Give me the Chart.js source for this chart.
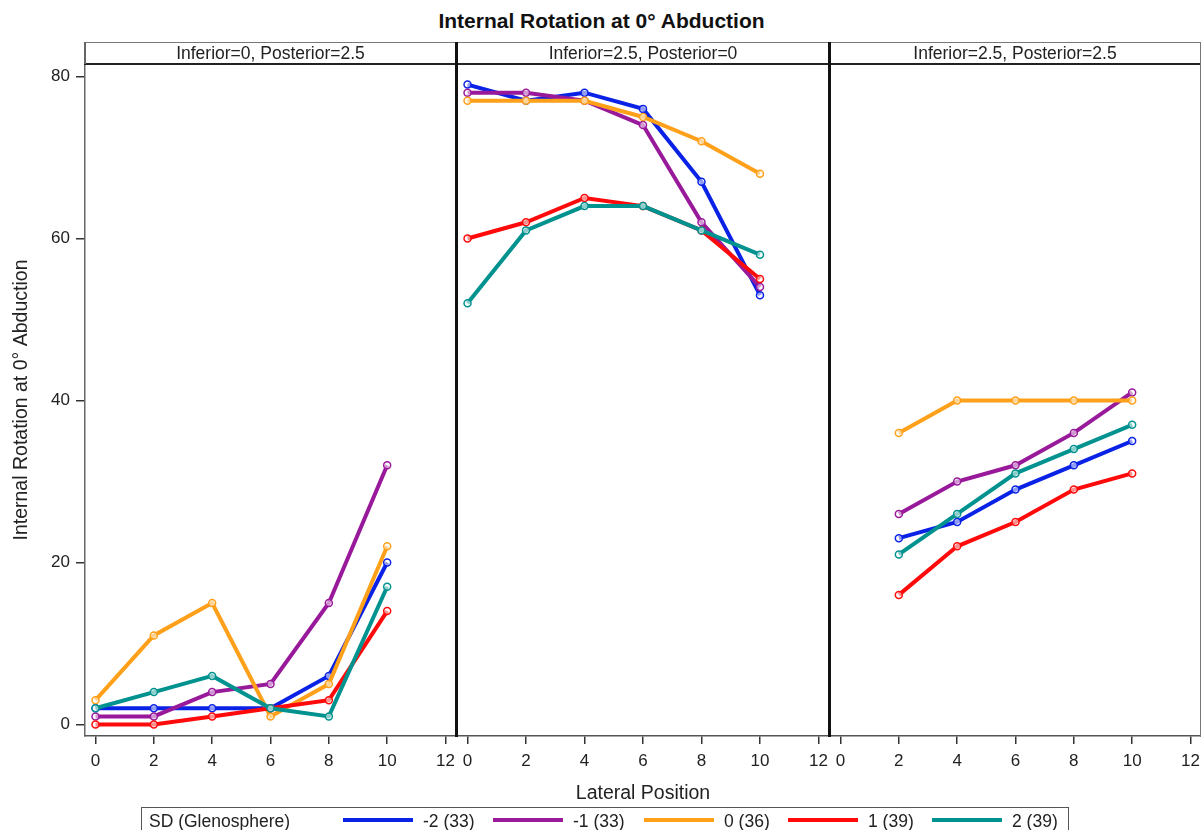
<!DOCTYPE html>
<html>
<head>
<meta charset="utf-8">
<script src="https://cdn.jsdelivr.net/npm/chart.js@4.4.0/dist/chart.umd.min.js"></script>
<style>
  body { margin: 0; background: #fff; font-family: "Liberation Sans", Arial, sans-serif; color: #222; }
  #wrap { position: relative; width: 1203px; height: 830px; overflow: hidden; }
  canvas { position: absolute; }
  .line { position: absolute; }
  .txt { position: absolute; white-space: nowrap; line-height: 1; }
  #title { left: 0; width: 1203px; top: 10px; text-align: center; font-weight: bold; font-size: 21px; color: #111; }
  .head { top: 45px; font-size: 17.5px; text-align: center; }
  #legend { position: absolute; left: 141px; top: 807px; width: 928px; height: 40px; border: 1px solid #555; box-sizing: border-box; }
  .swatch { position: absolute; top: 10px; width: 70px; height: 4px; }
  .lab { position: absolute; top: 3px; font-size: 17.5px; white-space: nowrap; }
</style>
</head>
<body>
<div id="wrap">
  <div id="title" class="txt">Internal Rotation at 0° Abduction</div>
  <canvas id="panel1" width="456" height="744" style="left:0px;top:64px;width:456px;height:744px"></canvas>
  <canvas id="panel2" width="372" height="744" style="left:457px;top:64px;width:372px;height:744px"></canvas>
  <canvas id="panel3" width="371" height="744" style="left:830px;top:64px;width:371px;height:744px"></canvas>
  <div id="legend"></div>
</div>
<script>
// lateral positions on the x axis
const lateralFull = [0, 2, 4, 6, 8, 10];
const lateralShort = [2, 4, 6, 8, 10];
const xTicks = [0, 2, 4, 6, 8, 10, 12];
const yTicks = [0, 20, 40, 60, 80];

const panelTitles = ["Inferior=0, Posterior=2.5", "Inferior=2.5, Posterior=0", "Inferior=2.5, Posterior=2.5"];
const seriesLabels = ["-2 (33)", "-1 (33)", "0 (36)", "1 (39)", "2 (39)"];
const seriesColors = ["#0a22e6", "#99199b", "#ffa01a", "#ff0a0a", "#00928f"];

// Inferior=0, Posterior=2.5
const p1Minus2 = [2, 2, 2, 2, 6, 20];
const p1Minus1 = [1, 1, 4, 5, 15, 32];
const p1Zero   = [3, 11, 15, 1, 5, 22];
const p1Plus1  = [0, 0, 1, 2, 3, 14];
const p1Plus2  = [2, 4, 6, 2, 1, 17];

// Inferior=2.5, Posterior=0
const p2Minus2 = [79, 77, 78, 76, 67, 53];
const p2Minus1 = [78, 78, 77, 74, 62, 54];
const p2Zero   = [77, 77, 77, 75, 72, 68];
const p2Plus1  = [60, 62, 65, 64, 61, 55];
const p2Plus2  = [52, 61, 64, 64, 61, 58];

// Inferior=2.5, Posterior=2.5
const p3Minus2 = [23, 25, 29, 32, 35];
const p3Minus1 = [26, 30, 32, 36, 41];
const p3Zero   = [36, 40, 40, 40, 40];
const p3Plus1  = [16, 22, 25, 29, 31];
const p3Plus2  = [21, 26, 31, 34, 37];

Chart.defaults.font.family = "'Liberation Sans', Arial, sans-serif";
Chart.defaults.color = "#222";

function makeDatasets(xs, seriesList) {
  return seriesList.map((ys, i) => ({
    label: seriesLabels[i],
    data: xs.map((x, j) => ({ x: x, y: ys[j] })),
    borderColor: seriesColors[i],
    borderWidth: 4,
    pointRadius: 3.5,
    pointBorderWidth: 1.5,
    pointBorderColor: seriesColors[i],
    pointBackgroundColor: "rgba(255,255,255,0.55)",
    tension: 0,
    order: seriesList.length - i
  }));
}

function panelOptions(showY, showXTitle) {
  return {
    responsive: false,
    animation: false,
    events: [],
    layout: { padding: 0, autoPadding: false },
    plugins: { legend: { display: false }, tooltip: { enabled: false } },
    scales: {
      x: {
        type: "linear",
        min: -0.36,
        max: 12.36,
        afterBuildTicks: s => { s.ticks = xTicks.map(v => ({ value: v })); },
        afterFit: s => { s.height = 72; s.paddingLeft = 0; s.paddingRight = 0; },
        grid: { drawOnChartArea: false, tickLength: 8, color: "#333", lineWidth: 1.5 },
        border: { color: "#555", width: 1.5 },
        ticks: { font: { size: 17 }, color: "#222", padding: 7, autoSkip: false, maxRotation: 0 },
        title: { display: showXTitle, text: "Lateral Position", font: { size: 19.5 }, color: "#222", padding: { top: 0, bottom: 3 } }
      },
      y: {
        display: showY,
        min: -1.42,
        max: 81.54,
        afterBuildTicks: s => { s.ticks = yTicks.map(v => ({ value: v })); },
        // keep the plot area flush with the panel strip
        afterFit: s => { s.width = showY ? 85 : 0; s.paddingTop = 0; s.paddingBottom = 0; },
        grid: { drawOnChartArea: false, tickLength: 9, color: "#333", lineWidth: 1.5 },
        border: { color: "#666", width: 1.5 },
        ticks: { font: { size: 17 }, color: "#222", padding: 6 },
        title: { display: true, text: "Internal Rotation at 0° Abduction", font: { size: 19.5 }, color: "#222", padding: { top: 10, bottom: 0 } }
      }
    }
  };
}

new Chart(document.getElementById("panel1"), {
  type: "line",
  data: { datasets: makeDatasets(lateralFull, [p1Minus2, p1Minus1, p1Zero, p1Plus1, p1Plus2]) },
  options: panelOptions(true, false)
});
new Chart(document.getElementById("panel2"), {
  type: "line",
  data: { datasets: makeDatasets(lateralFull, [p2Minus2, p2Minus1, p2Zero, p2Plus1, p2Plus2]) },
  options: panelOptions(false, true)
});
new Chart(document.getElementById("panel3"), {
  type: "line",
  data: { datasets: makeDatasets(lateralShort, [p3Minus2, p3Minus1, p3Zero, p3Plus1, p3Plus2]) },
  options: panelOptions(false, false)
});

// panel frame: header strip, dividers and outer borders
const wrap = document.getElementById("wrap");
function addLine(l, t, w, h, color) {
  const d = document.createElement("div");
  d.className = "line";
  d.style.cssText = `left:${l}px;top:${t}px;width:${w}px;height:${h}px;background:${color}`;
  wrap.appendChild(d);
}
addLine(84, 42, 1117, 1, "#777");
addLine(84, 63, 1117, 2, "#222");
addLine(84, 42, 1.5, 22, "#666");
addLine(1199.5, 42, 1.5, 695, "#777");
addLine(455, 42, 3, 695, "#111");
addLine(828, 42, 3, 695, "#111");

const headCenters = [270.5, 643, 1015];
panelTitles.forEach((t, i) => {
  const d = document.createElement("div");
  d.className = "txt head";
  d.textContent = t;
  d.style.left = (headCenters[i] - 180) + "px";
  d.style.width = "360px";
  wrap.appendChild(d);
});

// legend strip
const legend = document.getElementById("legend");
const head = document.createElement("div");
head.className = "lab";
head.style.left = "7px";
head.textContent = "SD (Glenosphere)";
legend.appendChild(head);
const swatchLeft = [201, 351, 502, 646, 790];
seriesLabels.forEach((lab, i) => {
  const s = document.createElement("div");
  s.className = "swatch";
  s.style.left = swatchLeft[i] + "px";
  s.style.background = seriesColors[i];
  legend.appendChild(s);
  const t = document.createElement("div");
  t.className = "lab";
  t.style.left = (swatchLeft[i] + 80) + "px";
  t.textContent = lab;
  legend.appendChild(t);
});
</script>
</body>
</html>
